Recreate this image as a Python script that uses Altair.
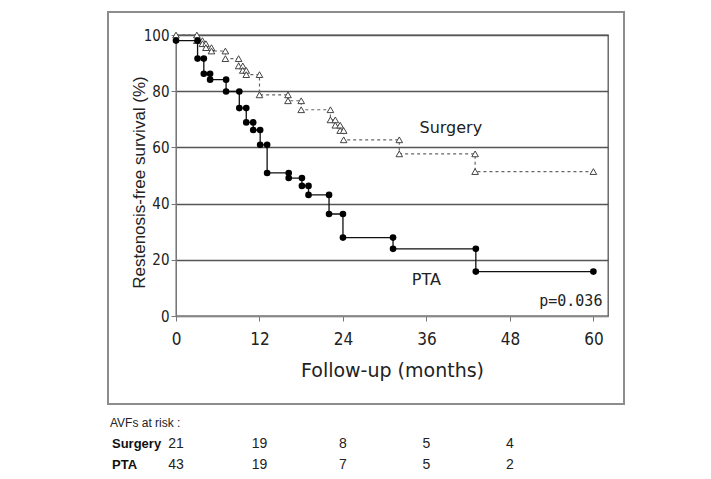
import altair as alt
import pandas as pd

# ---- data ----
pta_times = [0.0, 3.1, 4.0, 4.9, 7.2, 9.1, 10.1, 11.1, 12.1, 13.1, 16.2, 18.1, 19.05, 22.0, 24.0, 31.2, 43.1]
pta_surv = [98.0, 91.6, 86.2, 84.1, 79.9, 74.0, 68.9, 66.2, 60.9, 50.9, 49.1, 46.3, 43.1, 36.3, 27.9, 23.9, 15.8]
pta_end = 60.0

surg_times = [3.0, 3.8, 4.3, 5.1, 7.1, 9.0, 9.6, 10.1, 12.0, 16.1, 18.0, 22.2, 22.9, 23.6, 24.1, 32.1, 43.0]
surg_surv = [98.0, 96.9, 95.5, 94.3, 91.6, 89.0, 87.4, 85.9, 78.7, 76.6, 73.4, 69.8, 67.9, 66.0, 62.7, 57.7, 51.4]
surg_end = 60.0

x_ticks = [0, 12, 24, 36, 48, 60]
y_ticks = [0, 20, 40, 60, 80, 100]

risk_times = [0, 12, 24, 36, 48]
risk_surgery = [21, 19, 8, 5, 4]
risk_pta = [43, 19, 7, 5, 2]


def step_table(times, surv, end):
    rows = [{"t": 0.0, "s": 100.0}]
    for t, s in zip(times, surv):
        rows.append({"t": t, "s": s})
    rows.append({"t": end, "s": surv[-1]})
    return pd.DataFrame(rows)


def marker_table(times, surv, end, start_marker=True):
    rows = [{"t": 0.0, "s": 100.0}] if start_marker else []
    prev = 100.0
    for t, s in zip(times, surv):
        if t > 0:
            rows.append({"t": t, "s": prev})
        rows.append({"t": t, "s": s})
        prev = s
    rows.append({"t": end, "s": prev})
    return pd.DataFrame(rows)


pta_line_df = step_table(pta_times, pta_surv, pta_end)
surg_line_df = step_table(surg_times, surg_surv, surg_end)
pta_pts_df = marker_table(pta_times, pta_surv, pta_end, start_marker=False)
surg_pts_df = marker_table(surg_times, surg_surv, surg_end)

NARROW = "DejaVu Sans Condensed, Liberation Sans, sans-serif"

xs = alt.Scale(domain=[0, 62.1], nice=False, zero=False)
ys = alt.Scale(domain=[0, 100], nice=False)

x_axis = alt.Axis(
    values=x_ticks, title="Follow-up (months)", grid=False, labelFlush=False,
    tickSize=5, tickColor="#777", domainColor="#888",
    labelFont=NARROW, labelFontSize=17, labelColor="#222", labelPadding=10,
    titleFont="DejaVu Sans", titleFontSize=19, titleFontWeight="normal", titleColor="#222",
    titleY=60, titleBaseline="alphabetic",
)
y_axis = alt.Axis(
    values=y_ticks, title="Restenosis-free survival (%)", grid=True, labelFlush=False,
    gridColor="#555", gridWidth=1.3,
    tickSize=5, tickColor="#777", domainColor="#777",
    labelFont=NARROW, labelFontSize=15, labelColor="#222", labelPadding=2,
    titleFont="Liberation Sans", titleFontSize=17, titleFontWeight="normal", titleColor="#222",
    titleAngle=270, titleX=-37, titleY=147, titleAlign="center", titleBaseline="middle",
)

X = alt.X("t:Q", scale=xs, axis=x_axis)
Y = alt.Y("s:Q", scale=ys, axis=y_axis)

frame = alt.Chart(pd.DataFrame({"a": [0]})).mark_rect(
    fillOpacity=0, stroke="#8c8c8c", strokeWidth=2
).encode(x=alt.value(-68), x2=alt.value(448), y=alt.value(-23), y2=alt.value(369))

surg_line = alt.Chart(surg_line_df).mark_line(
    interpolate="step-after", color="#666", strokeWidth=1.2, strokeDash=[3, 3]
).encode(x=X, y=Y)
surg_pts = alt.Chart(surg_pts_df).mark_point(
    shape="triangle-up", filled=True, fill="white", stroke="#444", strokeWidth=1, size=44, opacity=1
).encode(x=X, y=Y)

pta_line = alt.Chart(pta_line_df).mark_line(
    interpolate="step-after", color="#111", strokeWidth=1.3
).encode(x=X, y=Y)
pta_pts = alt.Chart(pta_pts_df).mark_circle(color="#000", size=44, opacity=1).encode(x=X, y=Y)

labels_df = pd.DataFrame({"label": ["Surgery", "PTA"], "t": [39.5, 36.0], "s": [65.3, 11.0]})
curve_labels = alt.Chart(labels_df).mark_text(
    font="DejaVu Sans", fontSize=16, color="#222", align="center", baseline="alphabetic"
).encode(x=X, y=Y, text="label:N")

pval = alt.Chart(pd.DataFrame({"label": ["p=0.036"], "t": [61.3], "s": [3.6]})).mark_text(
    font="DejaVu Sans Mono", fontSize=15, color="#222", align="right", baseline="alphabetic"
).encode(x=X, y=Y, text="label:N")

risk_title = alt.Chart(pd.DataFrame({"label": ["AVFs at risk :"]})).mark_text(
    font="Liberation Sans", fontSize=12, color="#222", align="left", baseline="alphabetic"
).encode(x=alt.value(-66), y=alt.value(392), text="label:N")

name_style = dict(font="Liberation Sans", fontSize=13, fontWeight="bold", color="#111",
                  align="left", baseline="alphabetic")
surg_name = alt.Chart(pd.DataFrame({"label": ["Surgery"]})).mark_text(**name_style).encode(
    x=alt.value(-64), y=alt.value(413), text="label:N")
pta_name = alt.Chart(pd.DataFrame({"label": ["PTA"]})).mark_text(**name_style).encode(
    x=alt.value(-64), y=alt.value(434), text="label:N")

num_style = dict(font="Liberation Sans", fontSize=14, color="#222", align="center", baseline="alphabetic")
surg_nums = alt.Chart(pd.DataFrame({"t": risk_times, "n": [str(v) for v in risk_surgery]})).mark_text(
    **num_style).encode(x=X, y=alt.value(413), text="n:N")
pta_nums = alt.Chart(pd.DataFrame({"t": risk_times, "n": [str(v) for v in risk_pta]})).mark_text(
    **num_style).encode(x=X, y=alt.value(434), text="n:N")

chart = alt.layer(
    frame, surg_line, pta_line, surg_pts, pta_pts, curve_labels, pval,
    risk_title, surg_name, pta_name, surg_nums, pta_nums
).properties(
    width=432, height=281,
    padding={"left": 168, "top": 27, "right": 95, "bottom": 157},
    autosize=alt.AutoSizeParams(type="none"),
    background="white",
).configure_view(stroke="#555", strokeWidth=1.3)

chart.save("out.html", embed_options={"renderer": "svg", "actions": False})
